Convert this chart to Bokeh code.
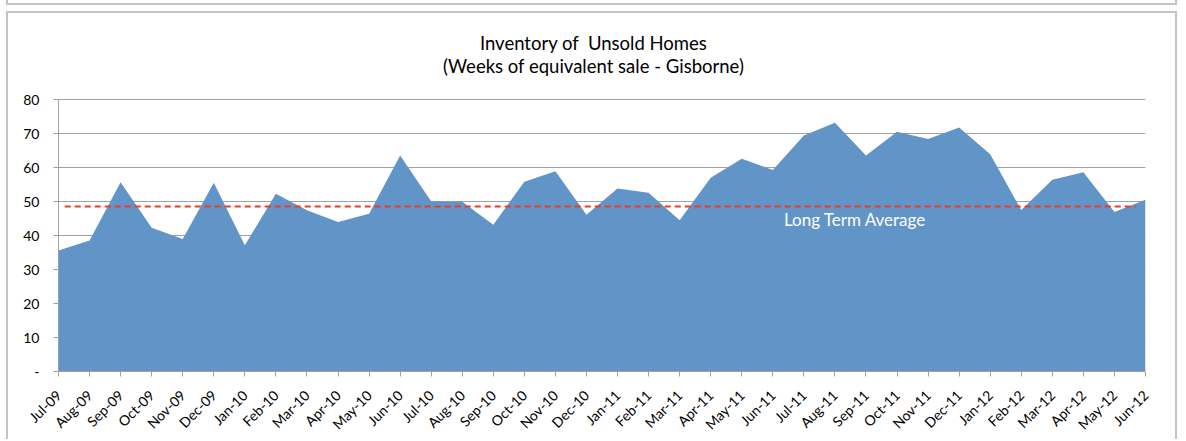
from bokeh.plotting import figure
from bokeh.models import FixedTicker, Label, InlineStyleSheet
from bokeh.embed import file_html
from bokeh.resources import INLINE
import math

months = ["Jul-09", "Aug-09", "Sep-09", "Oct-09", "Nov-09", "Dec-09",
          "Jan-10", "Feb-10", "Mar-10", "Apr-10", "May-10", "Jun-10",
          "Jul-10", "Aug-10", "Sep-10", "Oct-10", "Nov-10", "Dec-10",
          "Jan-11", "Feb-11", "Mar-11", "Apr-11", "May-11", "Jun-11",
          "Jul-11", "Aug-11", "Sep-11", "Oct-11", "Nov-11", "Dec-11",
          "Jan-12", "Feb-12", "Mar-12", "Apr-12", "May-12", "Jun-12"]
weeks = [35.6, 38.5, 55.7, 42.3, 39.0, 55.5,
         37.1, 52.3, 47.4, 44.0, 46.4, 63.5,
         50.1, 49.9, 43.2, 55.8, 58.9, 46.1,
         53.8, 52.6, 44.5, 57.0, 62.6, 59.3,
         69.4, 73.2, 63.5, 70.5, 68.4, 71.8,
         63.9, 47.5, 56.4, 58.6, 46.9, 50.5]
long_term_average = 48.5
y_ticks = [0, 10, 20, 30, 40, 50, 60, 70, 80]
title_line1 = "Inventory of\u00a0\u00a0Unsold Homes"
title_line2 = "(Weeks of equivalent sale - Gisborne)"

FONT = "Lato"
BORDER = "2px solid #C4C4C4"
idx = list(range(len(months)))
n = len(months)

# The frame reaches the top of the chart box; the value axis and grid stop at 80,
# and the two-line title sits in the empty space above.
Y_TOP = 105.3

p = figure(width=1171, height=428, output_backend="svg", toolbar_location=None,
           title=None,
           x_range=(0, n - 1), y_range=(0, Y_TOP),
           min_border_left=50, min_border_right=34, min_border_top=0, min_border_bottom=70)
p.styles = {"margin-left": "6px", "margin-top": "11px",
            "border-left": BORDER, "border-top": BORDER, "border-right": BORDER}
p.stylesheets = [InlineStyleSheet(css="""
:host::before {
  content: "";
  position: absolute;
  box-sizing: border-box;
  left: -2px;
  top: -16px;
  width: 1171px;
  height: 8px;
  border-left: 2px solid #C4C4C4;
  border-right: 2px solid #C4C4C4;
  border-bottom: 2px solid #C4C4C4;
  pointer-events: none;
}
""")]
p.outline_line_color = None
p.background_fill_color = "white"
p.border_fill_color = "white"

p.varea(x=idx, y1=[0] * n, y2=weeks, fill_color="#6195C8", fill_alpha=1.0)

p.line(x=[0.2, n - 1.3], y=[long_term_average, long_term_average],
       line_color="#F03A22", line_width=2, line_dash="6 4")

p.add_layout(Label(x=25.65, y=44.6, text="Long Term Average", text_color="white",
                   text_font=FONT, text_font_size="17px",
                   text_align="center", text_baseline="middle"))

# two-line title (centred on the chart box)
for txt, ty in [(title_line1, 96.6), (title_line2, 89.8)]:
    p.add_layout(Label(x=17.23, y=ty, text=txt,
                       text_font=FONT, text_font_size="18.5px", text_color="#000000",
                       text_align="center", text_baseline="alphabetic"))

# axes
p.xaxis.ticker = FixedTicker(ticks=idx)
p.xaxis.major_label_overrides = {i: m for i, m in zip(idx, months)}
p.xaxis.major_label_orientation = math.pi / 4
p.xaxis.minor_tick_line_color = None
p.xaxis.major_tick_in = 0
p.xaxis.major_tick_out = 5
p.xaxis.axis_line_color = "#A0A0A0"
p.xaxis.major_tick_line_color = "#A0A0A0"
p.xaxis.major_label_text_font = FONT
p.xaxis.major_label_text_font_size = "14px"
p.xaxis.major_label_text_color = "#000000"
p.xaxis.major_label_standoff = 16

p.yaxis.ticker = FixedTicker(ticks=y_ticks)
p.yaxis.bounds = (y_ticks[0], y_ticks[-1])
p.yaxis.major_label_overrides = {0: "-"}
p.yaxis.minor_tick_line_color = None
p.yaxis.major_tick_in = 0
p.yaxis.major_tick_out = 5
p.yaxis.axis_line_color = "#A0A0A0"
p.yaxis.major_tick_line_color = "#A0A0A0"
p.yaxis.major_label_text_font = FONT
p.yaxis.major_label_text_font_size = "14px"
p.yaxis.major_label_text_color = "#000000"
p.yaxis.major_label_standoff = 14

p.xgrid.grid_line_color = None
p.ygrid.ticker = FixedTicker(ticks=y_ticks)
p.ygrid.grid_line_color = "#A0A0A0"
p.ygrid.level = "underlay"

open("out.html", "w").write(file_html(p, INLINE))
